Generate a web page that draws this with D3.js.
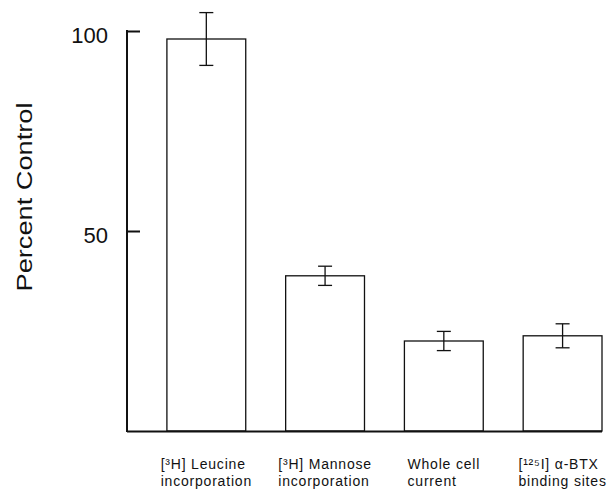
<!DOCTYPE html>
<html>
<head>
<meta charset="utf-8">
<script src="https://cdn.jsdelivr.net/npm/d3@7"></script>
<style>
  html, body { margin: 0; padding: 0; background: #fff; }
  svg { display: block; }
  text { font-family: "Liberation Sans", Arial, Helvetica, sans-serif; fill: #111; }
</style>
</head>
<body>
<svg id="chart" width="609" height="492"></svg>
<script>
// ---- data ----
const categories = ["leucine", "mannose", "current", "btx"];
const values = [98, 38.8, 22.5, 23.8];
const errors = [6.6, 2.4, 2.4, 3.0];
const yTicks = [50, 100];
const yTitle = "Percent Control";
const labelLine1 = ["[³H] Leucine", "[³H] Mannose", "Whole cell", "[¹²⁵I] α-BTX"];
const labelLine2 = ["incorporation", "incorporation", "current", "binding sites"];

// ---- layout ----
const svg = d3.select("#chart");
const x0 = 127, x1 = 602, yTop = 31, yBot = 431;

const x = d3.scaleBand()
  .domain(categories)
  .range([x0, x1])
  .paddingInner(40 / 119)
  .paddingOuter(0.168)
  .align(1);

const y = d3.scaleLinear().domain([0, 100]).range([yBot, yTop]);

// bars
svg.append("g").selectAll("rect")
  .data(categories)
  .join("rect")
  .attr("x", d => x(d))
  .attr("y", (d, i) => y(values[i]))
  .attr("width", x.bandwidth())
  .attr("height", (d, i) => y(0) - y(values[i]))
  .attr("fill", "#fff")
  .attr("stroke", "#111")
  .attr("stroke-width", 1.3);

// error bars
const eg = svg.append("g").attr("stroke", "#111").attr("stroke-width", 1.3);
categories.forEach((c, i) => {
  const cx = x(c) + x.bandwidth() / 2;
  const hi = y(values[i] + errors[i]), lo = y(values[i] - errors[i]);
  eg.append("line").attr("x1", cx).attr("x2", cx).attr("y1", hi).attr("y2", lo);
  eg.append("line").attr("x1", cx - 7).attr("x2", cx + 7).attr("y1", hi).attr("y2", hi);
  eg.append("line").attr("x1", cx - 7).attr("x2", cx + 7).attr("y1", lo).attr("y2", lo);
});

// y axis (ticks pointing inward)
const yAxis = d3.axisRight(y).tickValues(yTicks).tickSize(13).tickFormat("");
const yg = svg.append("g").attr("transform", `translate(${x0},0)`).call(yAxis);
yg.select(".domain").remove();
yg.selectAll(".tick line").attr("stroke", "#111").attr("stroke-width", 2);
svg.append("line")
  .attr("x1", x0).attr("x2", x0)
  .attr("y1", y(100) - 1).attr("y2", y(0) + 1)
  .attr("stroke", "#111").attr("stroke-width", 2);

// y tick labels
svg.append("g").selectAll("text")
  .data(yTicks)
  .join("text")
  .attr("x", 108)
  .attr("y", d => y(d) + 12)
  .attr("text-anchor", "end")
  .attr("font-size", 22)
  .text(d => d);

// x axis baseline
svg.append("line")
  .attr("x1", x0).attr("x2", x1)
  .attr("y1", y(0) + 0.5).attr("y2", y(0) + 0.5)
  .attr("stroke", "#111").attr("stroke-width", 1.8);

// y title
svg.append("text")
  .attr("transform", `translate(32,197) rotate(-90)`)
  .attr("text-anchor", "middle")
  .attr("font-size", 22)
  .attr("textLength", 189)
  .attr("lengthAdjust", "spacingAndGlyphs")
  .text(yTitle);

// x labels: two lines, left-aligned as a block centred on the bar
categories.forEach((c, i) => {
  const cx = x(c) + x.bandwidth() / 2;
  const t1 = svg.append("text").attr("y", 469).attr("font-size", 14)
    .attr("letter-spacing", 0.8).text(labelLine1[i]);
  const t2 = svg.append("text").attr("y", 486).attr("font-size", 14)
    .attr("letter-spacing", 0.8).text(labelLine2[i]);
  const w = Math.max(t1.node().getComputedTextLength(), t2.node().getComputedTextLength());
  t1.attr("x", cx - w / 2);
  t2.attr("x", cx - w / 2);
});
</script>
</body>
</html>
